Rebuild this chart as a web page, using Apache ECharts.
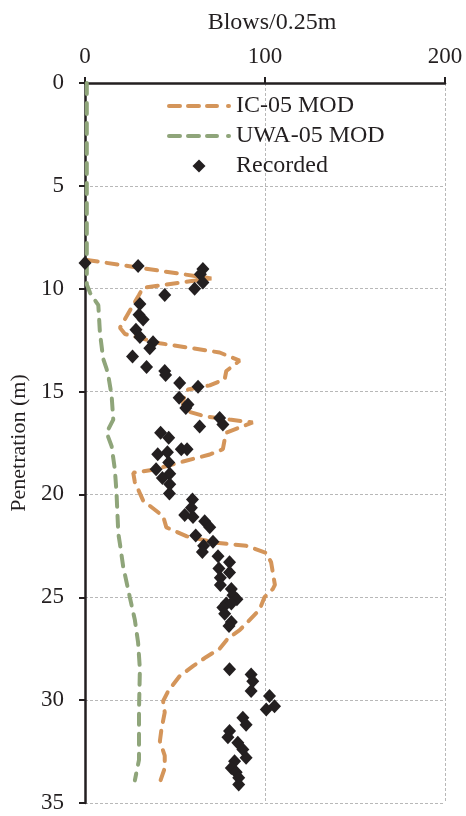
<!DOCTYPE html>
<html><head><meta charset="utf-8">
<script src="https://cdn.jsdelivr.net/npm/echarts@6/dist/echarts.min.js"></script>
<style>html,body{margin:0;padding:0;background:#fff}#c{width:466px;height:816px}</style>
</head><body><div id="c"></div>
<script>
const xTicks = [0, 100, 200];
const yTicks = [0, 5, 10, 15, 20, 25, 30, 35];

const icBlows = [1, 70.2, 32.3, 30, 19.4, 22.2, 41.6, 74.8, 85.9, 78.5, 77.6, 69.3, 57.2, 54.5, 54.5, 66.5, 80.3, 93.2, 78.5, 77.6, 76.6, 69.3, 54.5, 37.8, 26.8, 27.7, 32.3, 43.4, 45.2, 56.3, 72.9, 89.6, 100.6, 103.4, 105.5, 104.3, 99.7, 97, 85.9, 79.4, 74.8, 67.4, 60, 52.6, 46.2, 43.4, 44.3, 42.5, 41.6, 44.3, 44.3, 41.6];
const icDepth = [8.6, 9.5, 9.95, 10.3, 11.9, 12.2, 12.65, 13.1, 13.5, 14.0, 14.4, 14.7, 14.9, 15.4, 15.9, 16.2, 16.36, 16.5, 17.0, 17.33, 17.8, 18.06, 18.4, 18.8, 18.95, 19.4, 20.3, 21.06, 21.6, 22.03, 22.35, 22.5, 22.84, 23.3, 24.4, 24.6, 25.0, 25.6, 26.6, 27.0, 27.5, 27.9, 28.35, 28.83, 29.56, 30.05, 30.6, 31.4, 32.0, 32.7, 33.3, 34.0];

const uwaBlows = [1, 1, 2.8, 7.4, 8.3, 10.1, 12, 12.9, 14.8, 15.7, 12, 14.8, 16.6, 17.5, 18.5, 19.4, 21.2, 24.9, 27.7, 29.5, 30.5, 30, 30, 27.7];
const uwaDepth = [0, 9.8, 10.2, 10.8, 12.15, 13.4, 13.9, 14.2, 15.2, 16.36, 17.0, 17.66, 18.8, 19.9, 21.9, 22.4, 23.5, 25.0, 26.1, 27.2, 28.5, 30.45, 32.9, 33.9];

const recBlows = [0, 29.5, 65.5, 64.1, 65.5, 60.9, 44.3, 30.5, 30, 32.3, 28.3, 30.5, 37.8, 36, 26.4, 34.2, 44.3, 44.8, 52.6, 62.8, 52.3, 57.2, 56, 74.8, 76.6, 63.7, 42, 46.5, 53.5, 56.7, 40.4, 45.8, 46.5, 39.5, 47.1, 43.0, 47.1, 46.9, 59.7, 59.1, 55.4, 60, 66.5, 69.3, 61.5, 71.1, 65.9, 65.2, 73.9, 80.3, 74.4, 80.3, 75.2, 75.2, 81.3, 82.2, 84.4, 78.5, 81.3, 76.6, 77.6, 81.3, 80, 80.3, 92.3, 93.2, 92.3, 102.5, 105.3, 100.7, 87.7, 89.5, 80.3, 79.4, 84.9, 87.7, 89.5, 83.1, 81.3, 84, 85.4, 85.4];
const recDepth = [8.75, 8.9, 9.04, 9.3, 9.7, 10.0, 10.3, 10.74, 11.26, 11.5, 12.0, 12.35, 12.6, 12.9, 13.3, 13.8, 14.0, 14.2, 14.58, 14.77, 15.3, 15.63, 15.8, 16.28, 16.6, 16.7, 17.0, 17.25, 17.8, 17.8, 18.05, 17.95, 18.45, 18.78, 19.0, 19.2, 19.5, 19.95, 20.25, 20.65, 21.0, 21.1, 21.3, 21.6, 22.0, 22.3, 22.5, 22.8, 23.0, 23.3, 23.6, 23.8, 24.05, 24.4, 24.6, 24.9, 25.1, 25.3, 25.3, 25.5, 25.8, 26.2, 26.4, 28.5, 28.75, 29.08, 29.56, 29.8, 30.3, 30.45, 30.85, 31.2, 31.5, 31.8, 32.07, 32.4, 32.8, 32.97, 33.3, 33.5, 33.77, 34.1];

const zip = (a, b) => a.map((v, i) => [v, b[i]]);
const FONT = '"Liberation Serif", "Times New Roman", serif';
const TXT = '#231f20';
const ORANGE = '#D4955A';
const GREEN = '#8FA57A';
function dash(a, b) {
  return 'M' + (a + 2) + ',0L' + (b - 2) + ',0A2,2,0,0,1,' + (b - 2) + ',4L' + (a + 2) + ',4A2,2,0,0,1,' + (a + 2) + ',0Z';
}
const dashIcon = 'path://' + dash(0, 15) + dash(19, 34) + dash(38, 52) + dash(59, 64);

const chart = echarts.init(document.getElementById('c'), null, {renderer: 'canvas'});
chart.setOption({
  animation: false,
  backgroundColor: '#fff',
  textStyle: {fontFamily: FONT},
  grid: {left: 85, top: 83, width: 360, height: 720, containLabel: false},
  legend: {
    orient: 'vertical', left: 162, top: 89, itemWidth: 64, itemHeight: 13, itemGap: 6,
    textStyle: {fontFamily: FONT, fontSize: 24, color: TXT},
    data: [
      {name: 'IC-05 MOD', icon: dashIcon, itemStyle: {color: ORANGE}},
      {name: 'UWA-05 MOD', icon: dashIcon, itemStyle: {color: GREEN}},
      {name: 'Recorded', icon: 'path://M0,-1L1,0L0,1L-1,0Z', itemStyle: {color: TXT}}
    ]
  },
  xAxis: {
    type: 'value', position: 'top', min: xTicks[0], max: xTicks[xTicks.length - 1], interval: 100,
    name: 'Blows/0.25m', nameLocation: 'middle', nameGap: 48,
    nameTextStyle: {fontFamily: FONT, fontSize: 24, color: TXT, padding: [0, 0, 0, 14]},
    axisLine: {show: true, onZero: false, lineStyle: {color: TXT, width: 2.5}},
    axisTick: {show: true, length: 6, lineStyle: {color: TXT, width: 2}},
    axisLabel: {fontFamily: FONT, fontSize: 23, color: TXT, margin: 15},
    splitLine: {show: true, lineStyle: {color: '#b8b8b8', type: [3, 2], width: 1}}
  },
  yAxis: {
    type: 'value', inverse: true, min: yTicks[0], max: yTicks[yTicks.length - 1], interval: 5,
    name: 'Penetration (m)', nameLocation: 'middle', nameGap: 54,
    nameTextStyle: {fontFamily: FONT, fontSize: 22, color: TXT},
    axisLine: {show: true, onZero: false, lineStyle: {color: TXT, width: 2.5}},
    axisTick: {show: true, length: 6, lineStyle: {color: TXT, width: 2}},
    axisLabel: {fontFamily: FONT, fontSize: 23, color: TXT, margin: 21},
    splitLine: {show: true, lineStyle: {color: '#b8b8b8', type: [3, 2], width: 1}}
  },
  series: [
    {
      name: 'IC-05 MOD', type: 'line', data: zip(icBlows, icDepth), showSymbol: false, symbol: 'none',
      color: ORANGE,
      lineStyle: {color: ORANGE, width: 4, type: [11, 9], cap: 'round'}, z: 2
    },
    {
      name: 'UWA-05 MOD', type: 'line', data: zip(uwaBlows, uwaDepth), showSymbol: false, symbol: 'none',
      color: GREEN,
      lineStyle: {color: GREEN, width: 4, type: [11, 9], cap: 'round'}, z: 2
    },
    {
      name: 'Recorded', type: 'scatter', data: zip(recBlows, recDepth), symbol: 'diamond', symbolSize: [13, 14],
      itemStyle: {color: TXT, opacity: 1}, z: 3
    }
  ]
});
</script></body></html>
